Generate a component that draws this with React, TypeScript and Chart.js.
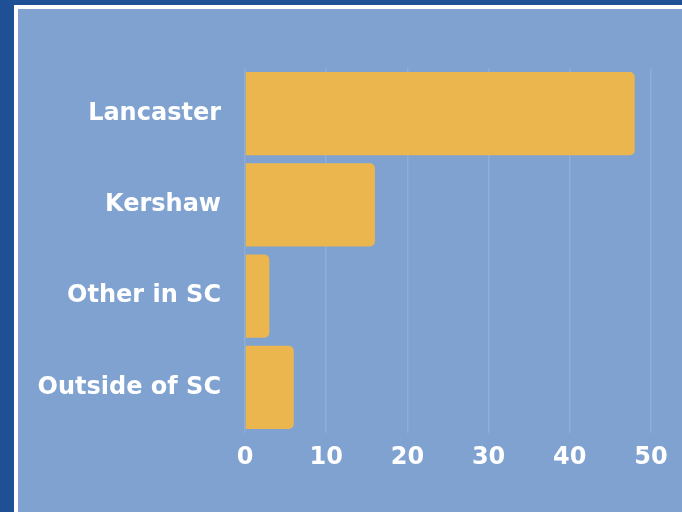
import React, { useEffect, useRef } from "react";
import { Chart, registerables } from "chart.js";

Chart.register(...registerables);

const categories = ["Lancaster", "Kershaw", "Other in SC", "Outside of SC"];
const values = [48, 16, 3, 6];
const xTicks = [0, 10, 20, 30, 40, 50];

export default function App() {
  const ref = useRef<HTMLCanvasElement | null>(null);

  useEffect(() => {
    document.body.style.margin = "0";
    const ctx = ref.current!.getContext("2d")!;
    const font = "'DejaVu Sans', sans-serif";
    const chart = new Chart(ctx, {
      type: "bar",
      data: {
        labels: categories,
        datasets: [
          {
            data: values,
            backgroundColor: "#ecb64f",
            borderRadius: 5,
            borderSkipped: "start",
            barPercentage: 0.91,
            categoryPercentage: 1,
          },
        ],
      },
      options: {
        indexAxis: "y",
        animation: false,
        responsive: false,
        maintainAspectRatio: false,
        layout: { padding: { left: 0, right: 31, top: 68, bottom: 0 } },
        plugins: { legend: { display: false }, tooltip: { enabled: false } },
        scales: {
          x: {
            min: 0,
            max: 50,
            afterBuildTicks: (s: any) => {
              s.ticks = xTicks.map((v) => ({ value: v }));
            },
            afterFit: (s: any) => {
              s.height = 79;
            },
            grid: { color: "rgba(255,255,255,0.13)", drawTicks: false, lineWidth: 1.5 },
            border: { display: false },
            ticks: {
              color: "#ffffff",
              padding: 10,
              font: { family: font, size: 24, weight: "bold" },
            },
          },
          y: {
            afterFit: (s: any) => {
              s.width = 245;
            },
            grid: { display: false, drawTicks: false },
            border: { display: false },
            ticks: {
              color: "#ffffff",
              padding: 24,
              font: { family: font, size: 24, weight: "bold" },
            },
          },
        },
      },
    });
    return () => chart.destroy();
  }, []);

  return (
    <div style={{ position: "fixed", left: 0, top: 0, width: 682, height: 512, background: "#1f4f95", overflow: "hidden" }}>
      <div style={{ position: "absolute", left: 14, top: 5, right: 0, bottom: 0, background: "#ffffff" }} />
      <div style={{ position: "absolute", left: 18, top: 9, right: 0, bottom: 0, background: "#7fa2d0" }} />
      <canvas ref={ref} width={682} height={512} style={{ position: "absolute", left: 0, top: 0, width: 682, height: 512 }} />
    </div>
  );
}
